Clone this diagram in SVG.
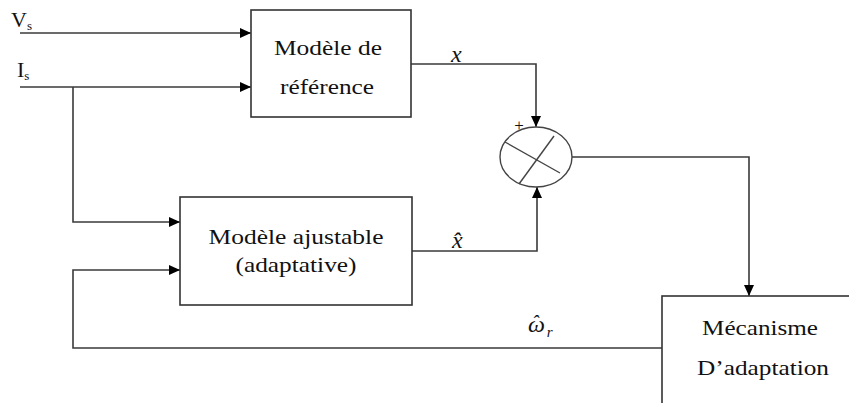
<svg xmlns="http://www.w3.org/2000/svg" width="849" height="403" viewBox="0 0 849 403">
<defs>
<marker id="arr" markerWidth="12" markerHeight="10" refX="11" refY="5" orient="auto" markerUnits="userSpaceOnUse">
<path d="M0,0 L11,5 L0,10 Z" fill="#000"/>
</marker>
<style>
.box{fill:#fff;stroke:#333;stroke-width:1.6}
.ln{fill:none;stroke:#3a3a3a;stroke-width:1.6}
text{fill:#111}
</style>
</defs>
<rect width="849" height="403" fill="#fff"/>
<g id="connectors">
<line class="ln" x1="20" y1="33" x2="251" y2="33" marker-end="url(#arr)"/>
<line class="ln" x1="20" y1="87" x2="251" y2="87" marker-end="url(#arr)"/>
<polyline class="ln" points="73,87 73,222 180,222" marker-end="url(#arr)"/>
<polyline class="ln" points="662,348 73,348 73,270 180,270" marker-end="url(#arr)"/>
<polyline class="ln" points="411,64 536,64 536,127" marker-end="url(#arr)"/>
<polyline class="ln" points="412,251 537,251 537,187" marker-end="url(#arr)"/>
<polyline class="ln" points="572,157 749,157 749,296" marker-end="url(#arr)"/>
</g>
<g font-family="Liberation Serif, DejaVu Serif, serif" font-size="22">
<g id="inputs">
<text x="11" y="27">V<tspan font-size="13" dy="3">s</tspan></text>
<text x="17" y="77">I<tspan font-size="13" dy="3">s</tspan></text>
</g>
<g id="ref-model">
<rect class="box" x="251" y="10" width="160" height="107"/>
<text x="328" y="55" text-anchor="middle" textLength="108" lengthAdjust="spacingAndGlyphs">Modèle de</text>
<text x="327" y="94" text-anchor="middle" textLength="94" lengthAdjust="spacingAndGlyphs">référence</text>
</g>
<g id="adj-model">
<rect class="box" x="180" y="197" width="232" height="108"/>
<text x="296" y="244" text-anchor="middle" textLength="175" lengthAdjust="spacingAndGlyphs">Modèle ajustable</text>
<text x="296" y="272" text-anchor="middle" textLength="121" lengthAdjust="spacingAndGlyphs">(adaptative)</text>
</g>
<g id="comparator">
<ellipse cx="536" cy="157" rx="36" ry="30" fill="#fff" stroke="#444" stroke-width="1.4"/>
<line x1="505" y1="142" x2="560" y2="173" stroke="#444" stroke-width="1.4"/>
<line x1="554" y1="136" x2="519" y2="184" stroke="#444" stroke-width="1.4"/>
<text x="519" y="131" font-size="17" text-anchor="middle" fill="#333">+</text>
</g>
<g id="mecanisme">
<rect class="box" x="662" y="296" width="200" height="120"/>
<text x="760" y="335" text-anchor="middle" textLength="116" lengthAdjust="spacingAndGlyphs">Mécanisme</text>
<text x="763" y="375" text-anchor="middle" textLength="132" lengthAdjust="spacingAndGlyphs">D’adaptation</text>
</g>
<g id="labels" font-style="italic" font-size="24">
<text x="451" y="62">x</text>
<text x="452" y="248">x̂</text>
<text x="528" y="332">ω<tspan font-size="20" dx="-13" dy="-2">ˆ</tspan><tspan font-size="15" dx="8" dy="7">r</tspan></text>
</g>
</g>
</svg>
